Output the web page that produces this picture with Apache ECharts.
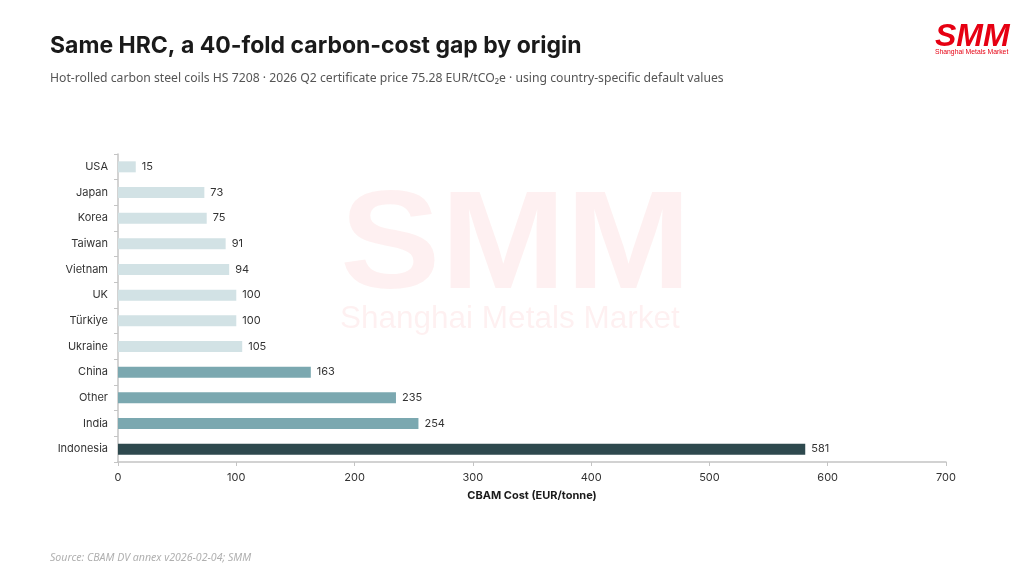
<!DOCTYPE html>
<html>
<head>
<meta charset="utf-8">
<script src="https://cdn.jsdelivr.net/npm/echarts@6/dist/echarts.min.js"></script>
<style>html,body{margin:0;padding:0;background:#fff}#c{width:1024px;height:576px}</style>
</head>
<body>
<div id="c"></div>
<script>
var categories = ['USA','Japan','Korea','Taiwan','Vietnam','UK','Türkiye','Ukraine','China','Other','India','Indonesia'];
var values = [15,73,75,91,94,100,100,105,163,235,254,581];
var tiers = [0,0,0,0,0,0,0,0,1,1,1,2];
var tierColors = ['#d2e2e5','#7ba8b0','#2e494e'];
var xTicks = [0,100,200,300,400,500,600,700];

var chart = echarts.init(document.getElementById('c'));
var wm = 'rgba(230,0,18,0.06)';
chart.setOption({
  backgroundColor:'#fff',
  animation:false,
  title:[
    {text:'Same HRC, a 40-fold carbon-cost gap by origin',left:45,top:30,
     textStyle:{fontFamily:'Inter',fontWeight:'bold',fontSize:23,color:'#1a1a1a'}},
    {text:'Hot-rolled carbon steel coils HS 7208 · 2026 Q2 certificate price 75.28 EUR/tCO₂e · using country-specific default values',left:45,top:68,
     textStyle:{fontFamily:'Noto Sans',fontWeight:'normal',fontSize:12.2,color:'#555'}},
    {text:'Source: CBAM DV annex v2026-02-04; SMM',left:45,top:547,
     textStyle:{fontFamily:'Noto Sans',fontStyle:'italic',fontWeight:'normal',fontSize:10.6,color:'#b0b0b0'}}
  ],
  graphic:[
    {type:'text',left:340,top:179,z:-1,scaleX:1.075,style:{text:'SMM',fontFamily:'Liberation Sans',fontWeight:'bold',fontSize:140,fill:wm}},
    {type:'text',left:340,top:303,z:-1,style:{text:'Shanghai Metals Market',fontFamily:'Liberation Sans',fontSize:31.5,fill:wm}},
    {type:'text',left:935,top:21,style:{text:'SMM',fontFamily:'Liberation Sans',fontWeight:'bold',fontStyle:'italic',fontSize:32,fill:'#e60012'}},
    {type:'text',left:935,top:49,style:{text:'Shanghai Metals Market',fontFamily:'Liberation Sans',fontSize:6.8,fill:'#e60012'}}
  ],
  grid:{left:118,right:78,top:154,bottom:114,containLabel:false},
  xAxis:{type:'value',min:0,max:700,interval:100,
    name:'CBAM Cost (EUR/tonne)',nameLocation:'middle',nameGap:28,
    nameTextStyle:{fontFamily:'Inter',fontWeight:'bold',fontSize:11,color:'#1a1a1a'},
    axisLine:{show:true,lineStyle:{color:'#c4c4c4',width:1.5}},
    axisTick:{show:true,length:4,lineStyle:{color:'#c4c4c4'}},
    splitLine:{show:false},
    axisLabel:{color:'#333',fontFamily:'Inter',fontSize:11,margin:10,
      formatter:function(v){return xTicks.indexOf(v)>=0?String(v):'';}}
  },
  yAxis:{type:'category',data:categories,inverse:true,
    axisLine:{show:true,lineStyle:{color:'#c4c4c4',width:1.5}},
    axisTick:{show:true,length:4,lineStyle:{color:'#c4c4c4'}},
    axisLabel:{color:'#333',fontFamily:'Inter',fontSize:11,margin:10}
  },
  series:[{type:'bar',barWidth:11,
    data:values.map(function(v,i){return {value:v,itemStyle:{color:tierColors[tiers[i]]}};}),
    label:{show:true,position:'right',distance:6,color:'#333',fontFamily:'Inter',fontSize:11}
  }]
});
</script>
</body>
</html>
